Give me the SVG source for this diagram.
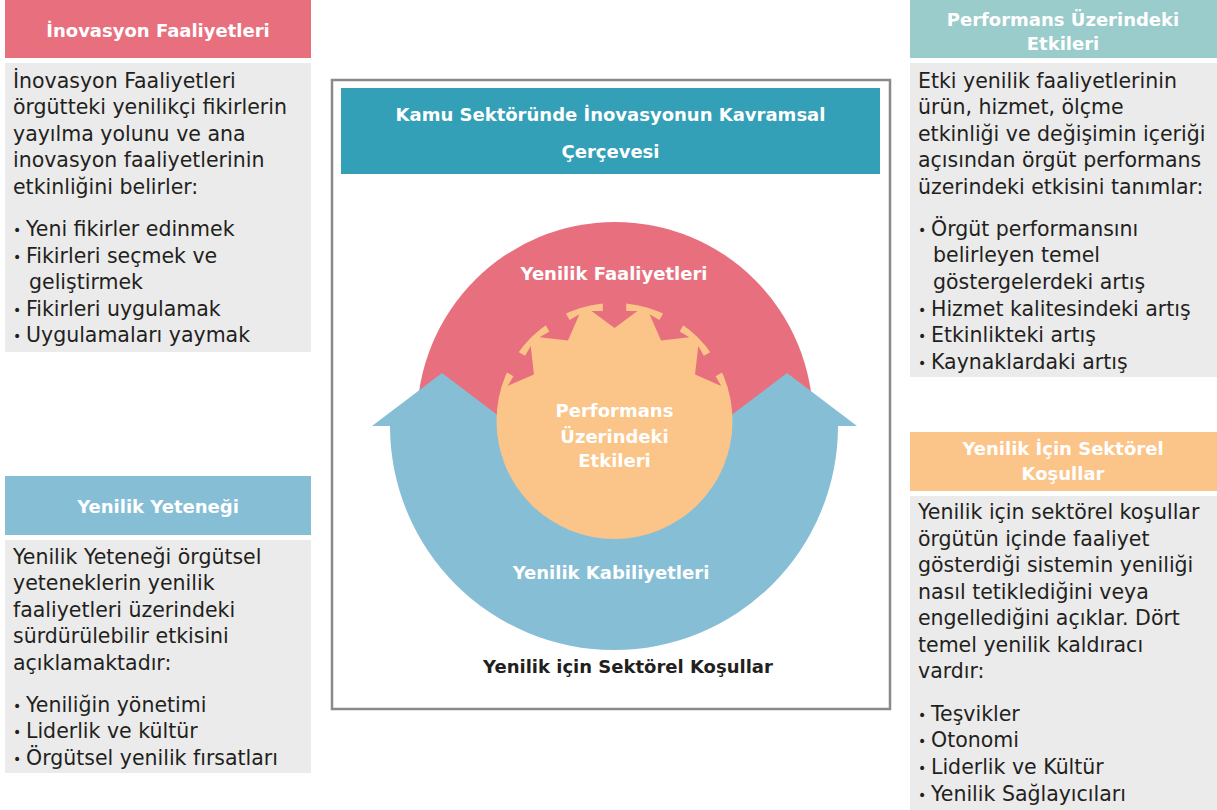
<svg xmlns="http://www.w3.org/2000/svg" width="1217" height="810" viewBox="0 0 1217 810">
<style>
.body{font-family:"DejaVu Sans","Liberation Sans",sans-serif;font-size:20.5px;fill:#231f20}
.bl{font-size:14px}
.hd{font-family:"DejaVu Sans","Liberation Sans",sans-serif;font-size:18px;font-weight:bold;fill:#ffffff;text-anchor:middle}
.dk{fill:#231f20}
.panel{fill:#ebebeb}
</style>
<defs>
<path id="inArrow" d="M -11.7 -135 H 11.7 V -110 H 23 L 0 -93 L -23 -110 H -11.7 Z" fill="#e8707e"/>
</defs>
<rect x="0" y="0" width="1217" height="810" fill="#ffffff"/>

<g id="inovasyon-faaliyetleri">
<rect x="5" y="0" width="306" height="58" fill="#e8707e"/>
<text class="hd" x="158" y="37">İnovasyon Faaliyetleri</text>
<rect class="panel" x="5" y="63" width="306" height="289"/>
<text class="body">
<tspan x="13" y="88">İnovasyon Faaliyetleri</tspan>
<tspan x="13" y="114">örgütteki yenilikçi fikirlerin</tspan>
<tspan x="13" y="141">yayılma yolunu ve ana</tspan>
<tspan x="13" y="167">inovasyon faaliyetlerinin</tspan>
<tspan x="13" y="194">etkinliğini belirler:</tspan>
<tspan class="bl" x="13" y="235">•</tspan><tspan x="26" y="236">Yeni fikirler edinmek</tspan>
<tspan class="bl" x="13" y="262">•</tspan><tspan x="26" y="263">Fikirleri seçmek ve</tspan>
<tspan x="29" y="289">geliştirmek</tspan>
<tspan class="bl" x="13" y="315">•</tspan><tspan x="26" y="316">Fikirleri uygulamak</tspan>
<tspan class="bl" x="13" y="341">•</tspan><tspan x="26" y="342">Uygulamaları yaymak</tspan>
</text>
</g>

<g id="yenilik-yetenegi">
<rect x="5" y="476" width="306" height="59" fill="#86bed6"/>
<text class="hd" x="158" y="513">Yenilik Yeteneği</text>
<rect class="panel" x="5" y="540" width="306" height="233"/>
<text class="body">
<tspan x="13" y="564">Yenilik Yeteneği örgütsel</tspan>
<tspan x="13" y="590">yeteneklerin yenilik</tspan>
<tspan x="13" y="617">faaliyetleri üzerindeki</tspan>
<tspan x="13" y="643">sürdürülebilir etkisini</tspan>
<tspan x="13" y="670">açıklamaktadır:</tspan>
<tspan class="bl" x="13" y="711">•</tspan><tspan x="26" y="712">Yeniliğin yönetimi</tspan>
<tspan class="bl" x="13" y="737">•</tspan><tspan x="26" y="738">Liderlik ve kültür</tspan>
<tspan class="bl" x="13" y="764">•</tspan><tspan x="26" y="765">Örgütsel yenilik fırsatları</tspan>
</text>
</g>

<g id="performans-uzerindeki-etkileri">
<rect x="910" y="0" width="307" height="58" fill="#99cccb"/>
<text class="hd" x="1063" y="26">Performans Üzerindeki</text>
<text class="hd" x="1063" y="50">Etkileri</text>
<rect class="panel" x="910" y="63" width="307" height="314"/>
<text class="body">
<tspan x="918" y="88">Etki yenilik faaliyetlerinin</tspan>
<tspan x="918" y="114">ürün, hizmet, ölçme</tspan>
<tspan x="918" y="141">etkinliği ve değişimin içeriği</tspan>
<tspan x="918" y="167">açısından örgüt performans</tspan>
<tspan x="918" y="194">üzerindeki etkisini tanımlar:</tspan>
<tspan class="bl" x="918" y="235">•</tspan><tspan x="931" y="236">Örgüt performansını</tspan>
<tspan x="933" y="262">belirleyen temel</tspan>
<tspan x="933" y="289">göstergelerdeki artış</tspan>
<tspan class="bl" x="918" y="315">•</tspan><tspan x="931" y="316">Hizmet kalitesindeki artış</tspan>
<tspan class="bl" x="918" y="341">•</tspan><tspan x="931" y="342">Etkinlikteki artış</tspan>
<tspan class="bl" x="918" y="368">•</tspan><tspan x="931" y="369">Kaynaklardaki artış</tspan>
</text>
</g>

<g id="yenilik-icin-sektorel-kosullar">
<rect x="910" y="432" width="307" height="59" fill="#fbc58a"/>
<text class="hd" x="1063" y="455">Yenilik İçin Sektörel</text>
<text class="hd" x="1063" y="480">Koşullar</text>
<rect class="panel" x="910" y="496" width="307" height="314"/>
<text class="body">
<tspan x="918" y="519">Yenilik için sektörel koşullar</tspan>
<tspan x="918" y="546">örgütün içinde faaliyet</tspan>
<tspan x="918" y="572">gösterdiği sistemin yeniliği</tspan>
<tspan x="918" y="599">nasıl tetiklediğini veya</tspan>
<tspan x="918" y="625">engellediğini açıklar. Dört</tspan>
<tspan x="918" y="652">temel yenilik kaldıracı</tspan>
<tspan x="918" y="678">vardır:</tspan>
<tspan class="bl" x="918" y="720">•</tspan><tspan x="931" y="721">Teşvikler</tspan>
<tspan class="bl" x="918" y="746">•</tspan><tspan x="931" y="747">Otonomi</tspan>
<tspan class="bl" x="918" y="773">•</tspan><tspan x="931" y="774">Liderlik ve Kültür</tspan>
<tspan class="bl" x="918" y="800">•</tspan><tspan x="931" y="801">Yenilik Sağlayıcıları</tspan>
</text>
</g>

<g id="kavramsal-cerceve">
<rect x="332" y="80" width="558" height="629" fill="#ffffff" stroke="#8a8a8a" stroke-width="2.5"/>
<rect x="341" y="88" width="539" height="86" fill="#33a0b8"/>
<text class="hd" x="610.5" y="121">Kamu Sektöründe İnovasyonun Kavramsal</text>
<text class="hd" x="610.5" y="158">Çerçevesi</text>
</g>

<g id="yenilik-faaliyetleri">
<circle cx="615" cy="420" r="198" fill="#e8707e"/>
<text class="hd" x="614" y="280">Yenilik Faaliyetleri</text>
</g>

<g id="yenilik-kabiliyetleri">
<path d="M 390 426 L 372 426 L 442 373 L 512 426 L 717 426 L 787 373 L 857 426 L 838 426 A 224 224 0 0 1 390 426 Z" fill="#86bed6"/>
<text class="hd" x="611" y="579">Yenilik Kabiliyetleri</text>
</g>

<g id="performans-etkileri">
<circle cx="614.5" cy="421" r="118" fill="#fbc58a"/>
<g transform="translate(614.5 421)">
<use href="#inArrow"/>
<use href="#inArrow" transform="rotate(-30)"/>
<use href="#inArrow" transform="rotate(-60)"/>
<use href="#inArrow" transform="rotate(30)"/>
<use href="#inArrow" transform="rotate(60)"/>
</g>
<text class="hd" x="614.5" y="417">Performans</text>
<text class="hd" x="614.5" y="443">Üzerindeki</text>
<text class="hd" x="614.5" y="467">Etkileri</text>
</g>

<g id="sektorel-kosullar">
<text class="hd dk" x="628" y="673">Yenilik için Sektörel Koşullar</text>
</g>

<g id="connectors"></g>
</svg>
